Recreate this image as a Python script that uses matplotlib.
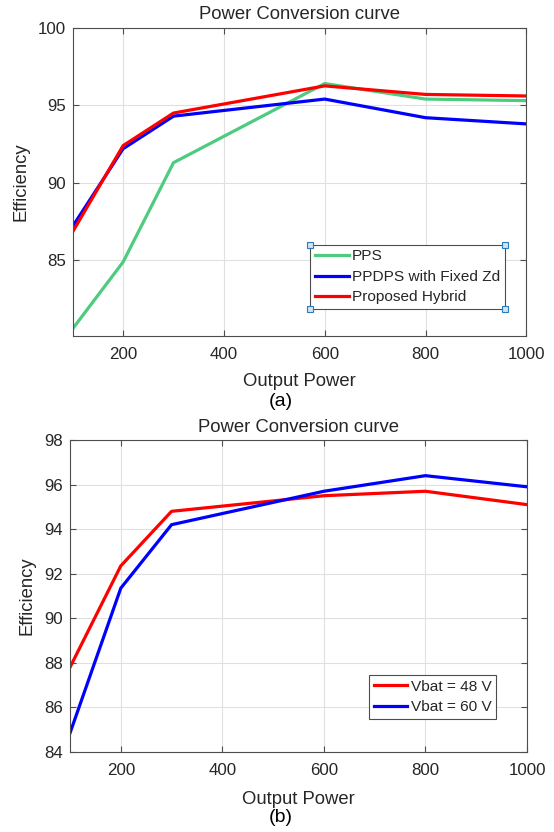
import matplotlib
matplotlib.use("Agg")
import matplotlib.pyplot as plt

plt.rcParams['font.family'] = ['Liberation Sans', 'DejaVu Sans']

# ---- data (a)
power_a = [100, 200, 300, 600, 800, 1000]
pps = [80.6, 84.9, 91.3, 96.4, 95.4, 95.3]
ppdps = [87.2, 92.2, 94.3, 95.4, 94.2, 93.8]
hybrid = [86.85, 92.4, 94.5, 96.25, 95.7, 95.6]
labels_a = ["PPS", "PPDPS with Fixed Zd", "Proposed Hybrid"]

# ---- data (b)
power_b = [100, 200, 300, 600, 800, 1000]
vbat48 = [87.8, 92.35, 94.8, 95.5, 95.7, 95.1]
vbat60 = [84.85, 91.35, 94.2, 95.7, 96.4, 95.9]
labels_b = ["Vbat = 48 V", "Vbat = 60 V"]

xticks = [200, 400, 600, 800, 1000]
yticks_a = [85, 90, 95, 100]
yticks_b = [84, 86, 88, 90, 92, 94, 96, 98]

txt = '#262626'
green = '#4DCB7E'
lw = 2.3

fig = plt.figure(figsize=(5.54, 8.32), dpi=100)
ax1 = fig.add_axes([72.7/554, 1-335.7/832, 453.6/554, 308/832])
ax2 = fig.add_axes([70/554, 1-752/832, 457/554, 312/832])

def style(ax, xlabelpad):
    ax.grid(True, color='#E0E0E0', linewidth=0.8)
    ax.set_axisbelow(True)
    for s in ax.spines.values():
        s.set_color('#4D4D4D')
        s.set_linewidth(0.8)
    ax.tick_params(direction='in', length=4, colors='#4D4D4D', labelcolor=txt,
                   labelsize=12.2, top=True, right=True)
    ax.tick_params(axis='x', pad=8)
    ax.tick_params(axis='y', pad=5)
    ax.set_xlabel("Output Power", fontsize=13.3, color=txt, labelpad=xlabelpad)
    ax.set_ylabel("Efficiency", fontsize=13.3, color=txt, labelpad=6)
    ax.set_title("Power Conversion curve", fontsize=13.3, color=txt, pad=6)

def style_legend(leg):
    leg.get_frame().set_linewidth(0.8)
    for t in leg.get_texts():
        t.set_color(txt)

legkw = dict(loc='lower right', borderaxespad=0, fontsize=11.1, handlelength=2.17,
             handletextpad=0.23, labelspacing=0.42, borderpad=0.3,
             fancybox=False, framealpha=1, edgecolor='#4D4D4D')

ax1.plot(power_a, pps, color=green, lw=lw, label=labels_a[0])
ax1.plot(power_a, ppdps, color='#0000FF', lw=lw, label=labels_a[1])
ax1.plot(power_a, hybrid, color='#FF0000', lw=lw, label=labels_a[2])
ax1.set_xlim(100, 1000)
ax1.set_ylim(80.15, 100)
ax1.set_xticks(xticks)
ax1.set_yticks(yticks_a)
style(ax1, 8)
leg1 = ax1.legend(bbox_to_anchor=(0.953, 0.0867), **legkw)
style_legend(leg1)

ax2.plot(power_b, vbat48, color='#FF0000', lw=lw, label=labels_b[0])
ax2.plot(power_b, vbat60, color='#0000FF', lw=lw, label=labels_b[1])
ax2.set_xlim(100, 1000)
ax2.set_ylim(84, 98)
ax2.set_xticks(xticks)
ax2.set_yticks(yticks_b)
style(ax2, 9)
leg2 = ax2.legend(bbox_to_anchor=(0.932, 0.106), **legkw)
style_legend(leg2)

# edit handles on legend (a) corners
fig.canvas.draw()
bb = leg1.get_window_extent().transformed(fig.transFigure.inverted())
for (xc, yc) in [(bb.x0, bb.y0), (bb.x1, bb.y0), (bb.x0, bb.y1), (bb.x1, bb.y1)]:
    fig.add_artist(plt.Line2D([xc], [yc], marker='s', markersize=4.5,
                              markerfacecolor='#CFE3F5', markeredgecolor='#2C7BB6',
                              markeredgewidth=0.8, transform=fig.transFigure))

fig.text(281/554, 1-402/832, "(a)", ha='center', va='center', fontsize=14, color='black')
fig.text(281/554, 1-818/832, "(b)", ha='center', va='center', fontsize=14, color='black')

fig.savefig("out.png", dpi=100)
